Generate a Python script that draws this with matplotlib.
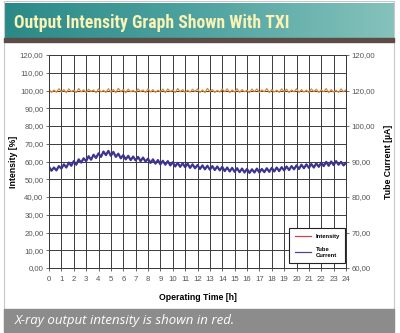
import numpy as np
import matplotlib
matplotlib.use("Agg")
import matplotlib.pyplot as plt
from matplotlib.lines import Line2D
from matplotlib.patches import Rectangle

plt.rcParams['font.family'] = ['Liberation Sans', 'DejaVu Sans']

# operating time, sampled every 0.2 h
hours = [i / 5 for i in range(121)]

# output intensity [%]
intensity = [
    100.8, 98.9, 100.3, 99.0, 101.0,  99.3, 100.5, 98.8, 100.9, 99.4,
    100.2, 98.9, 101.1, 99.2, 100.4,  98.9, 100.7, 99.5, 100.3, 98.8,
    100.9, 99.2, 100.1, 98.9, 101.0,  99.1, 100.6, 98.8, 101.2, 99.4,
    100.5, 98.7, 100.8, 99.3, 100.1,  98.9, 100.9, 99.4, 100.3, 98.8,
    101.0, 99.1, 100.5, 98.9, 100.2,  99.3, 100.8, 98.8, 100.9, 99.4,
    100.3, 98.9, 101.1, 99.3, 100.5,  98.8, 100.2, 99.1, 100.7, 99.4,
    100.9, 98.9, 100.3, 98.8, 101.2,  99.4, 100.5, 98.9, 100.1, 99.1,
    100.8, 99.3, 100.9, 98.8, 100.3,  99.1, 101.0, 98.9, 100.5, 99.3,
    100.1, 98.8, 100.8, 99.4, 100.9,  98.9, 100.3, 99.3, 101.1, 98.8,
    100.5, 99.1, 100.2, 98.9, 100.9,  99.4, 100.7, 98.8, 100.3, 99.3,
    101.0, 98.9, 100.5, 99.1, 100.2,  98.8, 100.9, 99.4, 100.7, 98.9,
    100.3, 99.3, 101.1, 98.8, 100.5,  99.1, 100.1, 98.9, 100.9, 99.3,
    100.4,
]

# tube current [uA] (right axis)
tube_current = [
    88.5, 87.4, 88.3, 87.5, 88.7,  88.0, 89.2, 88.3, 89.7, 88.8,
    90.1, 89.1, 90.6, 89.7, 90.9,  90.1, 91.5, 90.5, 91.9, 91.0,
    92.3, 91.3, 92.8, 91.8, 93.0,  91.6, 92.7, 91.3, 92.2, 90.9,
    91.8, 90.6, 91.6, 90.4, 91.4,  90.3, 91.3, 90.1, 91.1, 90.0,
    90.8, 89.6, 90.6, 89.4, 90.4,  89.2, 90.2, 89.1, 90.1, 88.9,
    89.8, 88.6, 89.6, 88.5, 89.5,  88.4, 89.4, 88.2, 89.2, 88.1,
    89.0, 87.9, 88.9, 87.8, 88.8,  87.7, 88.7, 87.6, 88.6, 87.5,
    88.5, 87.3, 88.3, 87.2, 88.2,  87.1, 88.1, 87.0, 88.0, 86.9,
    87.9, 86.8, 87.8, 86.9, 88.0,  86.9, 87.9, 87.0, 88.1, 87.1,
    88.2, 87.2, 88.3, 87.3, 88.4,  87.5, 88.6, 87.6, 88.7, 87.8,
    88.9, 87.9, 89.1, 88.1, 89.2,  88.2, 89.3, 88.3, 89.5, 88.5,
    89.7, 88.7, 89.9, 88.8, 90.0,  89.0, 90.1, 89.1, 89.9, 88.9,
    89.6,
]

x_ticks = list(range(25))
left_ticks = list(range(0, 121, 10))
left_labels = ["%d,00" % v for v in left_ticks]
right_ticks = [60, 70, 80, 90, 100, 110, 120]
right_labels = ["60,00", "70,00", "80,00", "90,00", "100,00", "120,00", "120,00"]

title = "Output Intensity Graph Shown With TXI"
caption = "X-ray output intensity is shown in red."

W, H = 400, 333
fig = plt.figure(figsize=(4, 3.33), dpi=100)
fig.patch.set_facecolor("white")

# panel frame
fig.patches.append(Rectangle((4 / W, 1 / H), 390 / W, 331 / H, transform=fig.transFigure,
                             fill=False, edgecolor="#c8c8c8", lw=0.8))

# title banner with teal gradient
ban = fig.add_axes([4 / W, 1 - 38 / H, 390 / W, 35 / H])
grad = np.linspace(0, 1, 256).reshape(1, -1)
cmap = matplotlib.colors.LinearSegmentedColormap.from_list("teal", ["#2a8a88", "#4fa3a0", "#86c2bc"])
ban.imshow(grad, aspect="auto", cmap=cmap, extent=[0, 1, 0, 1])
ban.set_axis_off()
ban.text(0.025, 0.44, title, transform=ban.transAxes, ha="left", va="center",
         fontsize=12.7, fontweight="bold", color="#fbf2b6",
         family=["Roboto Condensed", "Roboto", "DejaVu Sans"])
fig.patches.append(Rectangle((4 / W, 1 - 42 / H), 390 / W, 4 / H, transform=fig.transFigure,
                             color="#5b4c45"))

# caption bar
cap = Rectangle((4 / W, 1 / H), 390 / W, 23 / H, transform=fig.transFigure, color="#8c8c8c")
fig.patches.append(cap)
fig.text(15 / W, 12.5 / H, caption, ha="left", va="center", fontsize=9.5, style="italic",
         color="white", family=["Open Sans", "DejaVu Sans"])

# main chart
ax = fig.add_axes([49 / W, 1 - 268 / H, 297 / W, 213 / H])
ax2 = ax.twinx()

ax.plot(hours, intensity, color="#d98a3a", lw=0.9)
ax2.plot(hours, tube_current, color="#3d348f", lw=1.6)

ax.set_xlim(0, 24)
ax.set_ylim(0, 120)
ax2.set_ylim(60, 120)
ax.set_xticks(x_ticks)
ax.set_yticks(left_ticks)
ax.set_yticklabels(left_labels)
ax2.set_yticks(right_ticks)
ax2.set_yticklabels(right_labels)
ax.grid(True, color="#3a3a3a", lw=0.7)
ax.set_axisbelow(True)

for a in (ax, ax2):
    a.tick_params(labelsize=5.6, colors="#555555", length=2, width=0.6, pad=2)
    for s in a.spines.values():
        s.set_color("#3a3a3a")
        s.set_linewidth(0.7)
ax.tick_params(axis="x", pad=4)

ax.set_xlabel("Operating Time [h]", fontsize=6.3, fontweight="bold", labelpad=7)
ax.set_ylabel("Intensity [%]", fontsize=6.3, fontweight="bold", labelpad=1)
ax2.set_ylabel("Tube Current [\u00b5A]", fontsize=6.3, fontweight="bold", labelpad=6)

handles = [Line2D([], [], color="#c9474a", lw=0.9), Line2D([], [], color="#4b40a0", lw=0.9)]
leg = ax2.legend(handles, ["Intensity", "Tube\nCurrent"], loc="lower right",
                 bbox_to_anchor=(1.007, 0.01), frameon=True, fancybox=False,
                 framealpha=1, edgecolor="#222222", handlelength=2.8, borderpad=0.9,
                 labelspacing=1.4, prop={"size": 4.2, "weight": "bold"})
leg.get_frame().set_linewidth(0.8)

fig.savefig("out.png", dpi=100)
